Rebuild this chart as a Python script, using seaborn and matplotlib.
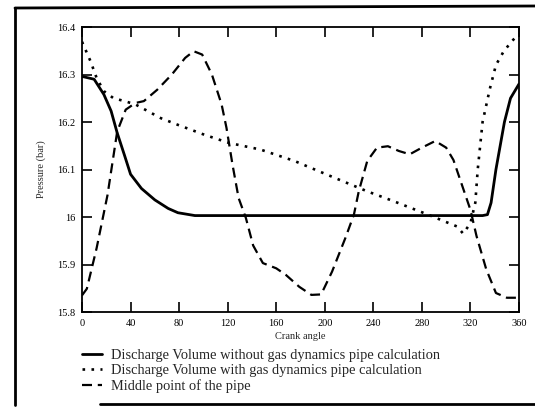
import numpy as np
import pandas as pd
import matplotlib
matplotlib.use("Agg")
import matplotlib.pyplot as plt
from matplotlib.lines import Line2D
import seaborn as sns

# values
angle_solid = [0, 10, 18, 24, 29, 35, 40, 49, 60, 71, 79, 93, 330, 334, 337, 341, 348, 353, 360]
p_solid = [16.296, 16.29, 16.258, 16.223, 16.177, 16.13, 16.09, 16.06, 16.036, 16.018, 16.009,
           16.003, 16.003, 16.005, 16.03, 16.1, 16.2, 16.25, 16.28]

angle_dotted = [0, 7, 12, 18, 26, 35, 44, 65, 79, 101, 121, 147, 175, 202, 235, 257, 285, 309,
                314, 320, 324, 326, 330, 336, 341, 347, 354, 360]
p_dotted = [16.369, 16.328, 16.293, 16.265, 16.25, 16.244, 16.237, 16.208, 16.194, 16.173, 16.156,
            16.142, 16.118, 16.089, 16.054, 16.033, 16.005, 15.98, 15.965, 15.987, 16.03, 16.1,
            16.2, 16.27, 16.32, 16.347, 16.37, 16.385]

angle_dashed = [0, 4, 12, 21, 29, 36, 44, 51, 62, 74, 85, 92, 99, 107, 115, 119, 124, 129, 135,
                141, 149, 160, 168, 179, 189, 197, 206, 217, 224, 228, 235, 243, 252, 261, 270,
                280, 291, 300, 306, 314, 320, 325, 333, 341, 350, 360]
p_dashed = [15.835, 15.849, 15.934, 16.046, 16.18, 16.226, 16.24, 16.244, 16.268, 16.3, 16.335,
            16.349, 16.342, 16.3, 16.237, 16.188, 16.11, 16.04, 15.998, 15.94, 15.903, 15.892,
            15.878, 15.853, 15.836, 15.837, 15.885, 15.956, 16.005, 16.054, 16.118, 16.146,
            16.149, 16.139, 16.132, 16.146, 16.16, 16.146, 16.12, 16.06, 16.015, 15.96, 15.89,
            15.84, 15.83, 15.83]

labels = ["Discharge Volume without gas dynamics pipe calculation",
          "Discharge Volume with gas dynamics pipe calculation",
          "Middle point of the pipe"]
xticks = [0, 40, 80, 120, 160, 200, 240, 280, 320, 360]
yticks = [15.8, 15.9, 16.0, 16.1, 16.2, 16.3, 16.4]
ytick_labels = ["15.8", "15.9", "16", "16.1", "16.2", "16.3", "16.4"]

sns.set_style("ticks")
plt.rcParams["font.family"] = ["Liberation Serif", "DejaVu Serif"]

fig = plt.figure(figsize=(5.35, 4.08), dpi=100)
ax = fig.add_axes([82 / 535, 1 - 312 / 408, (519 - 82) / 535, (312 - 27) / 408])

sns.lineplot(x=angle_solid, y=p_solid, ax=ax, color="black", lw=2.0, label=labels[0])
sns.lineplot(x=angle_dotted, y=p_dotted, ax=ax, color="black", lw=1.9,
             linestyle=(0, (1, 2.4)), label=labels[1])
sns.lineplot(x=angle_dashed, y=p_dashed, ax=ax, color="black", lw=1.6,
             linestyle=(0, (4.5, 2.6)), label=labels[2])

ax.set_xlim(0, 360)
ax.set_ylim(15.8, 16.4)
ax.set_xticks(xticks)
ax.set_xticklabels([str(t) for t in xticks])
ax.set_yticks(yticks)
ax.set_yticklabels(ytick_labels)
ax.tick_params(direction="in", top=True, right=True, length=7, width=1.2,
               labelsize=7.5, pad=5, colors="black")
for s in ax.spines.values():
    s.set_linewidth(1.3)
    s.set_color("black")

ax.set_xlabel("Crank angle", fontsize=7.5, labelpad=3)
ax.set_ylabel("Pressure (bar)", fontsize=7.5, labelpad=8)

ax.legend(loc="upper left", bbox_to_anchor=(82 / 535, 1 - 349 / 408),
          bbox_transform=fig.transFigure, frameon=False, fontsize=10.4,
          handlelength=1.4, handletextpad=0.6, labelspacing=0.15,
          borderpad=0, borderaxespad=0)

# scanned page frame
fig.add_artist(Line2D([15 / 535, 15 / 535], [1 - 8 / 408, 1 - 405 / 408], color="black", lw=2))
fig.add_artist(Line2D([15 / 535, 1], [1 - 8 / 408, 1 - 6 / 408], color="black", lw=2))
fig.add_artist(Line2D([100 / 535, 1], [1 - 404 / 408, 1 - 404 / 408], color="black", lw=2))

fig.savefig("out.png", dpi=100)
